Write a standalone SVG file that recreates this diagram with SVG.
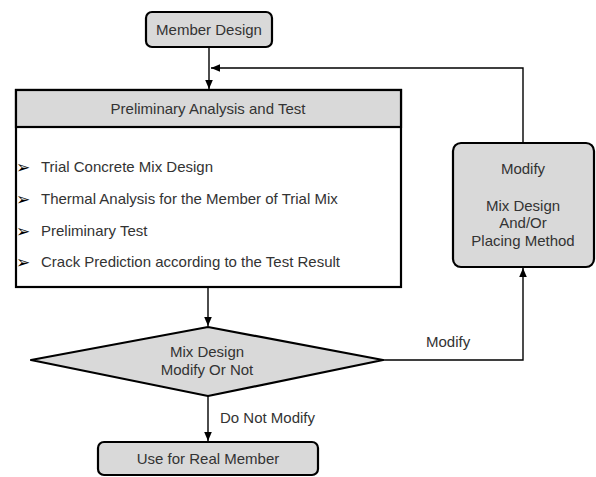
<svg xmlns="http://www.w3.org/2000/svg" width="596" height="477" viewBox="0 0 596 477">
<defs>
<marker id="ah" markerWidth="10" markerHeight="10" refX="9" refY="5" orient="auto" markerUnits="userSpaceOnUse">
<path d="M0,1.2 L9,5 L0,8.8 Z" fill="#000"/>
</marker>
<style>
.box{fill:#d9d9d9;stroke:#000;stroke-width:2.2}
.wbox{fill:#fff;stroke:#000;stroke-width:2.2}
.t{font-family:"Liberation Sans",Arial,sans-serif;font-size:15px;fill:#333}
.c{text-anchor:middle}
.b{font-family:"DejaVu Sans",sans-serif;font-size:17px;fill:#000}
.ln{fill:none;stroke:#000;stroke-width:1.4}
</style>
</defs>
<rect width="596" height="477" fill="#fff"/>
<g id="connectors">
<line class="ln" x1="209" y1="47" x2="209" y2="89" marker-end="url(#ah)"/>
<polyline class="ln" points="523,143 523,68 211,68" marker-end="url(#ah)"/>
<line class="ln" x1="208" y1="288" x2="208" y2="326" marker-end="url(#ah)"/>
<polyline class="ln" points="383,360 523,360 523,268" marker-end="url(#ah)"/>
<line class="ln" x1="208" y1="396" x2="208" y2="441" marker-end="url(#ah)"/>
<text class="t" x="426" y="347">Modify</text>
<text class="t" x="220" y="423">Do Not Modify</text>
</g>
<g id="member-design">
<rect class="box" x="146" y="12" width="126" height="35" rx="6"/>
<text class="t c" x="209" y="35">Member Design</text>
</g>
<g id="preliminary">
<rect class="wbox" x="16" y="90" width="385" height="197"/>
<rect class="box" x="16" y="90" width="385" height="37"/>
<text class="t c" x="208" y="114">Preliminary Analysis and Test</text>
<text class="b" x="16" y="173">➢</text>
<text class="t" x="41" y="172">Trial Concrete Mix Design</text>
<text class="b" x="16" y="205">➢</text>
<text class="t" x="41" y="204">Thermal Analysis for the Member of Trial Mix</text>
<text class="b" x="16" y="237">➢</text>
<text class="t" x="41" y="236">Preliminary Test</text>
<text class="b" x="16" y="268">➢</text>
<text class="t" x="41" y="267">Crack Prediction according to the Test Result</text>
</g>
<g id="decision">
<path class="box" d="M208,327 L383,360 L208,396 L31,360 Z" stroke-linejoin="round"/>
<text class="t c" x="207" y="357">Mix Design</text>
<text class="t c" x="207" y="375">Modify Or Not</text>
</g>
<g id="modify">
<rect class="box" x="453" y="143" width="141" height="124" rx="8"/>
<text class="t c" x="523" y="174">Modify</text>
<text class="t c" x="523" y="211">Mix Design</text>
<text class="t c" x="523" y="228">And/Or</text>
<text class="t c" x="523" y="246">Placing Method</text>
</g>
<g id="use-real">
<rect class="box" x="98" y="442" width="220" height="33" rx="6"/>
<text class="t c" x="208" y="464">Use for Real Member</text>
</g>
</svg>
